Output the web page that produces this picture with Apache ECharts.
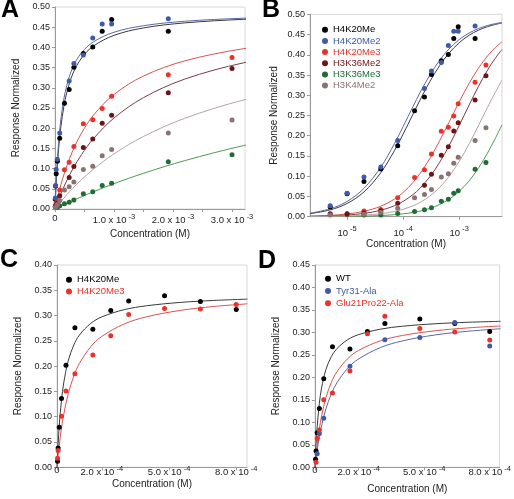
<!DOCTYPE html>
<html><head><meta charset="utf-8">
<script src="https://cdn.jsdelivr.net/npm/echarts@6/dist/echarts.min.js"></script>
<style>html,body{margin:0;padding:0;background:#fff}#c{width:514px;height:499px}</style>
</head><body><div id="c"></div><script>
// ---------- Panels A & B : concentrations (M) and normalized responses ----------
const concAB   = [5e-6, 1e-5, 2e-5, 4e-5, 8e-5, 1.6e-4, 2.4e-4, 3.2e-4, 4.8e-4, 6.4e-4, 8e-4, 9.6e-4, 1.92e-3, 3e-3];
const H4K20Me  = [0.024, 0.057, 0.087, 0.118, 0.175, 0.262, 0.296, 0.351, 0.385, 0.401, 0.440, 0.469, 0.440, null];
const H4K20Me2 = [0.027, 0.058, 0.098, 0.123, 0.188, null, 0.317, 0.360, 0.381, 0.423, 0.458, 0.458, 0.471, null];
const H4K20Me3 = [0.006, 0.008, 0.014, 0.018, 0.047, 0.097, 0.116, 0.155, 0.211, 0.221, 0.249, 0.279, 0.332, 0.375];
const H3K36Me2 = [0.007, 0.006, 0.009, 0.015, 0.033, null, 0.078, 0.105, 0.152, 0.173, 0.212, 0.232, 0.288, 0.348];
const H3K36Me3 = [null, null, 0.004, 0.004, 0.008, 0.013, 0.017, 0.022, 0.038, 0.043, 0.058, 0.064, 0.117, 0.134];
const H3K4Me2  = [0.004, null, 0.006, 0.011, 0.021, 0.047, 0.055, 0.067, 0.098, 0.106, 0.132, 0.147, 0.188, 0.220];

// fitted curves (A and B share them)
const fitConcAB   = [2.2e-6, 5e-6, 1e-5, 2e-5, 4e-5, 7e-5, 1e-4, 1.5e-4, 2e-4, 3e-4, 4.5e-4, 6.5e-4, 1e-3, 1.5e-3, 2.2e-3, 3.2e-3, 4.3e-3, 5.8e-3];
const fitH4K20Me  = [0.0076, 0.0169, 0.0327, 0.0613, 0.1089, 0.1633, 0.2042, 0.2534, 0.2882, 0.3341, 0.3737, 0.4032, 0.4298, 0.4482, 0.4607, 0.4695, 0.4745, 0.4785];
const fitH4K20Me2 = [0.0088, 0.0196, 0.0377, 0.0700, 0.1225, 0.1805, 0.2227, 0.2722, 0.3063, 0.3500, 0.3868, 0.4136, 0.4375, 0.4537, 0.4647, 0.4723, 0.4767, 0.4801];
const fitH4K20Me3 = [0.0015, 0.0034, 0.0067, 0.0133, 0.0259, 0.0435, 0.0599, 0.0846, 0.1066, 0.1441, 0.1881, 0.2318, 0.2836, 0.3292, 0.3667, 0.3969, 0.4163, 0.4321];
const fitH3K36Me2 = [0.0009, 0.0020, 0.0041, 0.0081, 0.0159, 0.0271, 0.0379, 0.0547, 0.0704, 0.0987, 0.1347, 0.1738, 0.2252, 0.2757, 0.3216, 0.3620, 0.3895, 0.4131];
const fitH3K36Me3 = [0.0002, 0.0004, 0.0007, 0.0014, 0.0029, 0.0050, 0.0071, 0.0105, 0.0139, 0.0206, 0.0303, 0.0426, 0.0627, 0.0884, 0.1198, 0.1572, 0.1906, 0.2269];
const fitH3K4Me2  = [0.0004, 0.0010, 0.0019, 0.0038, 0.0075, 0.0129, 0.0183, 0.0269, 0.0352, 0.0510, 0.0727, 0.0984, 0.1365, 0.1796, 0.2246, 0.2700, 0.3046, 0.3372];

// ---------- Panels C & D ----------
const concCD    = [2.5e-6, 5e-6, 1e-5, 2e-5, 4e-5, 8e-5, 1.6e-4, 2.4e-4, 3.2e-4, 4.8e-4, 6.4e-4, 8e-4];
const cH4K20Me  = [0.012, 0.038, 0.079, 0.136, 0.202, 0.276, 0.273, 0.310, 0.329, 0.339, 0.328, 0.312];
const cH4K20Me3 = [0.018, 0.033, null, 0.101, 0.151, 0.185, 0.222, 0.260, 0.302, 0.314, 0.313, 0.322];
const dWT       = [0.018, 0.036, 0.077, 0.131, 0.197, 0.268, 0.263, 0.302, 0.320, 0.330, 0.320, 0.302];
const dTyr31Ala = [null, null, 0.030, 0.075, 0.109, null, 0.225, null, 0.284, 0.289, 0.322, 0.270];
const dGlu21Pro22Ala = [null, 0.011, 0.064, 0.083, 0.150, 0.165, 0.214, 0.297, 0.336, 0.309, 0.301, 0.283];

const fitConcCD     = [0, 5e-6, 1e-5, 2e-5, 3e-5, 5e-5, 7.5e-5, 1e-4, 1.5e-4, 2e-4, 3e-4, 4e-4, 5.5e-4, 7e-4, 8.5e-4];
const fitCH4K20Me   = [0, 0.0466, 0.0821, 0.1327, 0.1669, 0.2104, 0.2418, 0.2614, 0.2843, 0.2974, 0.3117, 0.3194, 0.3260, 0.3299, 0.3325];
const fitCH4K20Me3  = [0, 0.0232, 0.0435, 0.0773, 0.1045, 0.1452, 0.1804, 0.2053, 0.2381, 0.2588, 0.2834, 0.2976, 0.3102, 0.3180, 0.3232];
const fitDWT        = [0, 0.0523, 0.0905, 0.1426, 0.1763, 0.2175, 0.2463, 0.2638, 0.2839, 0.2952, 0.3073, 0.3138, 0.3193, 0.3226, 0.3247];
const fitDTyr31Ala  = [0, 0.0199, 0.0377, 0.0677, 0.0923, 0.1301, 0.1636, 0.1877, 0.2203, 0.2411, 0.2664, 0.2811, 0.2944, 0.3026, 0.3082];
const fitDGlu21     = [0, 0.0265, 0.0491, 0.0857, 0.1140, 0.1550, 0.1889, 0.2121, 0.2418, 0.2601, 0.2813, 0.2932, 0.3037, 0.3101, 0.3144];

// tick label values
const xLabelsA = [0, 1e-3, 2e-3, 3e-3];
const xTicksA  = [0, 5e-4, 1e-3, 1.5e-3, 2e-3, 2.5e-3, 3e-3];
const xLabelsB = [1e-5, 1e-4, 1e-3];
const xTicksB  = [1e-5, 1e-4, 1e-3];
const xLabelsCD = [0, 2e-4, 5e-4, 8e-4];

const FONT = 'Liberation Sans, Arial, Helvetica, sans-serif';
const col = {black:'#000000', blue:'#3f5aa8', red:'#e8322b', dred:'#6b1518', green:'#1e6d35', grey:'#8b7272'};
const lcol = {black:'#3a3a3a', blue:'#5a68a6', red:'#d9534f', dred:'#7d3b47', green:'#4f9a55', grey:'#b3a3a6'};

function pts(xs, ys){ const o=[]; xs.forEach((x,i)=>{ if(ys[i]!=null) o.push([x, ys[i]]); }); return o; }
function scat(name, gi, xs, ys, c){ return {type:'scatter', name, xAxisIndex:gi, yAxisIndex:gi, data:pts(xs,ys), symbolSize:5, itemStyle:{color:c, opacity:1}, z:3, silent:true}; }
function fit(gi, xs, ys, c){ return {type:'line', name:'fit', xAxisIndex:gi, yAxisIndex:gi, data:pts(xs,ys), showSymbol:false, smooth:0.35, lineStyle:{width:1, color:c}, z:2, silent:true, clip:true}; }

const axLine = {show:true, lineStyle:{color:'#9a9a9a', width:1}};
function yAx(gi, max, gap){
  return {type:'value', gridIndex:gi, min:0, max:max, interval:0.05,
    name:'Response Normalized', nameLocation:'middle', nameGap:gap,
    nameTextStyle:{fontSize:10, color:'#222', fontFamily:FONT},
    axisLine:axLine, axisTick:{show:true, length:3, lineStyle:{color:'#9a9a9a'}},
    splitLine:{show:false},
    axisLabel:{fontSize:9, color:'#222', margin:5, fontFamily:FONT, formatter:v=>v.toFixed(2)}};
}
function sup(padB){ return {b:{fontSize:9.5, color:'#222', fontFamily:FONT}, s:{fontSize:7.5, color:'#222', fontFamily:FONT, padding:[0,0,padB,0]}}; }
function xLin(gi, max, labels, ticks, exp, gap, margin){
  return {type:'value', gridIndex:gi, min:0, max:max,
    name:'Concentration (M)', nameLocation:'middle', nameGap:gap,
    nameTextStyle:{fontSize:10, color:'#222', fontFamily:FONT},
    axisLine:axLine, axisTick:{show:true, length:3, lineStyle:{color:'#9a9a9a'}, customValues:ticks},
    splitLine:{show:false},
    axisLabel:{customValues:labels, margin:margin, rich:sup(7),
      formatter:v=>{ if(v===0) return '{b|0}'; const m=(v/Math.pow(10,exp)).toFixed(1); return '{b|'+m+' x 10}{s| '+exp+'}'; }}};
}

const option = {
  animation:false,
  textStyle:{fontFamily:FONT},
  grid:[
    {left:55, top:7, width:190, height:202, show:true, borderColor:'#d8d8d8', borderWidth:1},
    {left:310, top:14.3, width:192, height:202.4, show:true, borderColor:'#d8d8d8', borderWidth:1},
    {left:57, top:265, width:190, height:202.3, show:true, borderColor:'#d8d8d8', borderWidth:1},
    {left:315, top:265, width:189, height:202.3, show:true, borderColor:'#d8d8d8', borderWidth:1}
  ],
  xAxis:[
    xLin(0, 3.22e-3, xLabelsA, xTicksA, -3, 20, 4),
    {type:'log', gridIndex:1, min:2.18e-6, max:5.8e-3, logBase:10,
      name:'Concentration (M)', nameLocation:'middle', nameGap:15.5,
      nameTextStyle:{fontSize:10, color:'#222', fontFamily:FONT},
      axisLine:axLine, axisTick:{show:true, length:3, lineStyle:{color:'#9a9a9a'}, customValues:xTicksB},
      splitLine:{show:false}, minorTick:{show:false},
      axisLabel:{customValues:xLabelsB, margin:8, rich:sup(9),
        formatter:v=>'{b|10}{s| '+Math.round(Math.log10(v))+'}'}},
    xLin(2, 8.48e-4, xLabelsCD, xLabelsCD, -4, 11.7, -2),
    xLin(3, 8.45e-4, xLabelsCD, xLabelsCD, -4, 17.2, -2)
  ],
  yAxis:[ yAx(0, 0.5, 34), yAx(1, 0.5, 31), yAx(2, 0.4, 34), yAx(3, 0.45, 34) ],
  legend:[
    {orient:'vertical', left:322, top:24.8, padding:0, itemGap:1.15, itemWidth:6, itemHeight:6, icon:'circle',
      textStyle:{fontSize:9.5, fontFamily:FONT}, selectedMode:false,
      data:[{name:'H4K20Me', textStyle:{color:col.black}}, {name:'H4K20Me2', textStyle:{color:col.blue}},
            {name:'H4K20Me3', textStyle:{color:col.red}}, {name:'H3K36Me2', textStyle:{color:col.dred}},
            {name:'H3K36Me3', textStyle:{color:col.green}}, {name:'H3K4Me2', textStyle:{color:col.grey}}]},
    {orient:'vertical', left:66, top:274.8, padding:0, itemGap:1.7, itemWidth:6, itemHeight:6, icon:'circle',
      textStyle:{fontSize:9.5, fontFamily:FONT}, selectedMode:false,
      data:[{name:'H4K20Me', textStyle:{color:col.black}}, {name:'H4K20Me3', textStyle:{color:col.red}}]},
    {orient:'vertical', left:325, top:273.8, padding:0, itemGap:2.2, itemWidth:6, itemHeight:6, icon:'circle',
      textStyle:{fontSize:9.5, fontFamily:FONT}, selectedMode:false,
      data:[{name:'WT', textStyle:{color:col.black}}, {name:'Tyr31-Ala', textStyle:{color:col.blue}},
            {name:'Glu21Pro22-Ala', textStyle:{color:col.red}}]}
  ],
  graphic:[
    {type:'text', left:1, top:-2, style:{text:'A', font:'bold 25px '+FONT, fill:'#000'}},
    {type:'text', left:262, top:-2, style:{text:'B', font:'bold 25px '+FONT, fill:'#000'}},
    {type:'text', left:0, top:248, style:{text:'C', font:'bold 25px '+FONT, fill:'#000'}},
    {type:'text', left:258, top:249, style:{text:'D', font:'bold 25px '+FONT, fill:'#000'}}
  ],
  series:[]
};

const ab = [
  ['H4K20Me', H4K20Me, fitH4K20Me, 'black'],
  ['H4K20Me2', H4K20Me2, fitH4K20Me2, 'blue'],
  ['H4K20Me3', H4K20Me3, fitH4K20Me3, 'red'],
  ['H3K36Me2', H3K36Me2, fitH3K36Me2, 'dred'],
  ['H3K36Me3', H3K36Me3, fitH3K36Me3, 'green'],
  ['H3K4Me2', H3K4Me2, fitH3K4Me2, 'grey']
];
[0,1].forEach(gi=>{
  ab.forEach(([n, ys, fy, c])=>{
    option.series.push(fit(gi, fitConcAB, fy, lcol[c]));
    option.series.push(scat(n, gi, concAB, ys, col[c]));
  });
});
option.series.push(fit(2, fitConcCD, fitCH4K20Me, lcol.black));
option.series.push(fit(2, fitConcCD, fitCH4K20Me3, lcol.red));
option.series.push(scat('H4K20Me', 2, concCD, cH4K20Me, col.black));
option.series.push(scat('H4K20Me3', 2, concCD, cH4K20Me3, col.red));
option.series.push(fit(3, fitConcCD, fitDWT, lcol.black));
option.series.push(fit(3, fitConcCD, fitDTyr31Ala, lcol.blue));
option.series.push(fit(3, fitConcCD, fitDGlu21, lcol.red));
option.series.push(scat('WT', 3, concCD, dWT, col.black));
option.series.push(scat('Tyr31-Ala', 3, concCD, dTyr31Ala, col.blue));
option.series.push(scat('Glu21Pro22-Ala', 3, concCD, dGlu21Pro22Ala, col.red));

const chart = echarts.init(document.getElementById('c'));
chart.setOption(option);
</script></body></html>
